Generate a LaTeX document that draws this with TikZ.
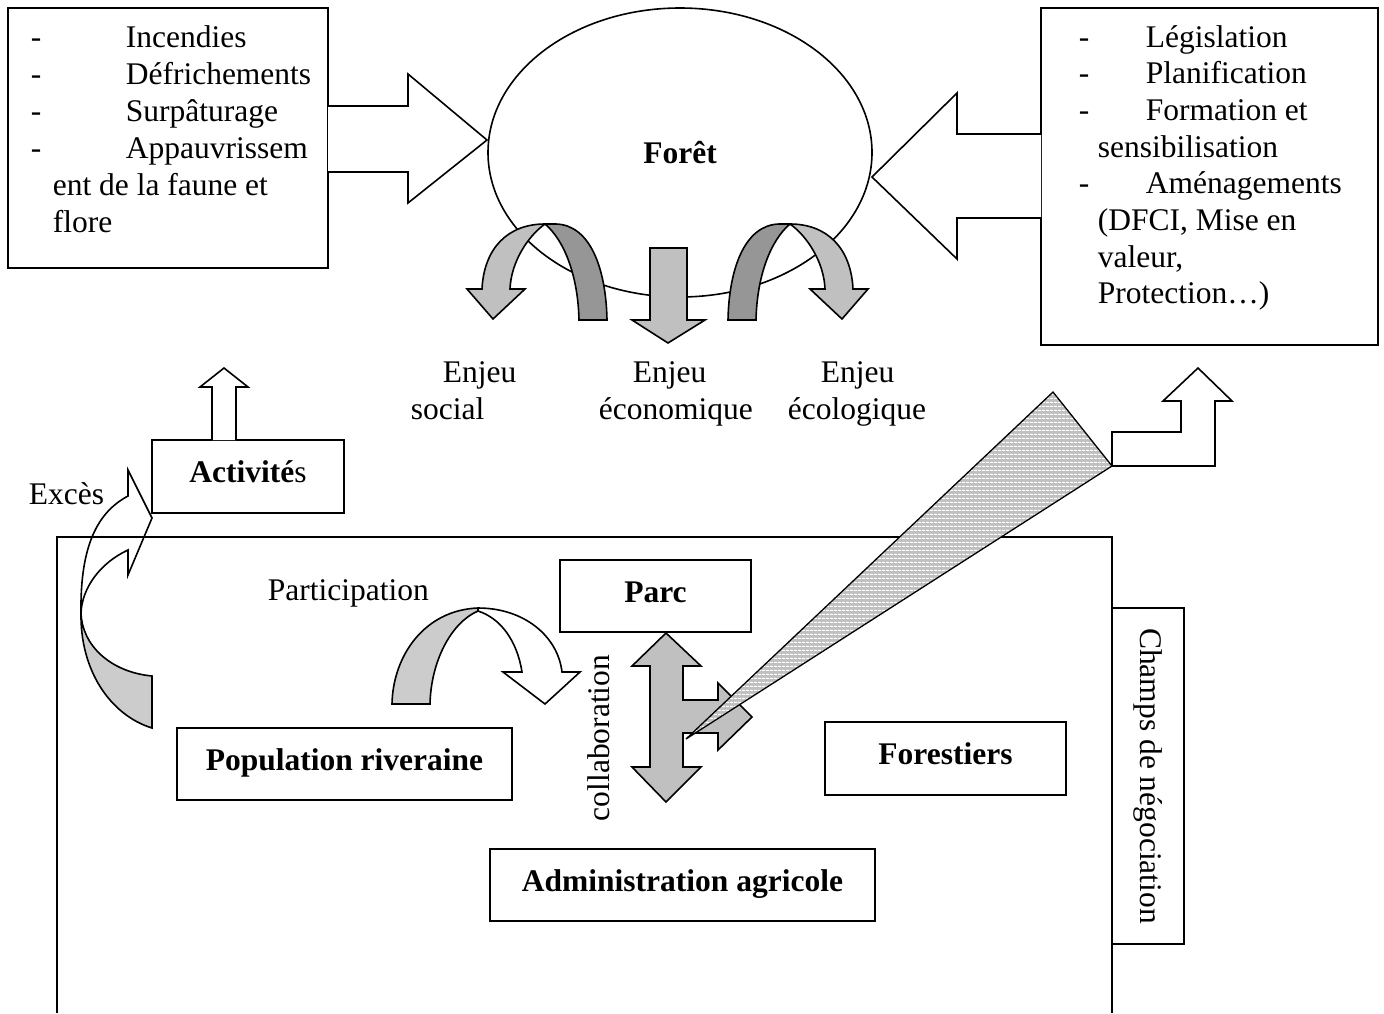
\documentclass[tikz,border=0pt]{standalone}
\usepackage{fontspec}
\setmainfont{Liberation Serif}
\usetikzlibrary{shapes.geometric,patterns.meta}

\definecolor{lightgrey}{HTML}{C0C0C0}
\definecolor{darkgrey}{HTML}{969696}
\definecolor{palegrey}{HTML}{CCCCCC}

\begin{document}
\begin{tikzpicture}[x=1pt, y=-1pt, line width=1.6pt,
  font=\fontsize{31.5}{37}\selectfont,
  box/.style={draw, fill=white, rectangle, inner sep=0pt},
  bold/.style={font=\fontsize{31.5}{37}\selectfont\bfseries, text height=21.5pt, text depth=9pt},
  txt/.style={inner sep=0pt, anchor=base west},
  blockarrow/.style={draw, fill=white}]

\useasboundingbox (0,0) rectangle (1384,1013);

% ── TOP: Foret and what acts on it ──────────────────────────

% Foret
\node[draw, ellipse, fill=white, font=\fontsize{31.5}{37}\selectfont\bfseries, inner sep=0pt,
      minimum width=384pt, minimum height=289pt] (foret) at (680,152.5) {Forêt};

% left box (threats) and its arrow
\node[box, minimum width=320pt, minimum height=260pt] (threats) at (168,138) {};
\draw[blockarrow] (328,106) -- (408,106) -- (408,74) -- (487,140)
                  -- (408,203) -- (408,172) -- (328,172);

\foreach \ypos/\lbl [count=\i] in {47/Incendies, 84/Défrichements, 121/Surpâturage, 158/Appauvrissem} {
    \node[txt] (thr-dash\i) at (30,\ypos) {-};
    \node[txt] (thr-\i) at (125,\ypos) {\lbl};
}
\node[txt] (thr-5) at (52,195) {ent de la faune et};
\node[txt] (thr-6) at (52,232) {flore};

% right box (measures) and its arrow
\node[box, minimum width=337pt, minimum height=337pt] (measures) at (1209.5,176.5) {};
\draw[blockarrow] (1041,134) -- (957,134) -- (957,93) -- (872,177)
                  -- (957,259) -- (957,218) -- (1041,218);

\foreach \ypos/\lbl [count=\i] in {47/Législation, 83/Planification, 120/Formation et, 193/Aménagements} {
    \node[txt] (mes-dash\i) at (1078,\ypos) {-};
    \node[txt] (mes-\i) at (1145,\ypos) {\lbl};
}
\foreach \ypos/\lbl [count=\i] in {157/sensibilisation, 230/{(DFCI, Mise en}, 267/{valeur,}, 303/{Protection…)}} {
    \node[txt] (mes-cont\i) at (1097,\ypos) {\lbl};
}

% ── ENJEUX: three arrows out of the Foret ───────────────────

% social (left), ecologique is its mirror image
\foreach \flip in {0,1} {
\begin{scope}[xshift=\flip*1335pt, xscale=1-2*\flip]
    \draw[fill=darkgrey] (545,224) .. controls (564,240) and (578,275) .. (579,320)
        -- (607,320) .. controls (606,268) and (590,225) .. (556,224) -- cycle;
    \draw[fill=lightgrey] (482,289) .. controls (484,248) and (508,224) .. (545,224)
        .. controls (528,236) and (511,262) .. (510,289)
        -- (525,289) -- (493,319) -- (467,289) -- cycle;
\end{scope}
}

% economique (middle)
\draw[fill=lightgrey] (650,248) -- (687,248) -- (687,320) -- (705,320)
    -- (668,343) -- (632,320) -- (650,320) -- cycle;

\foreach \xpos/\ypos/\lbl [count=\i] in {442/382/Enjeu, 410/419/social, 632/382/Enjeu,
        598/419/économique, 820/382/Enjeu, 787/419/écologique} {
    \node[txt] (enjeu-\i) at (\xpos,\ypos) {\lbl};
}

% ── ACTIVITES ───────────────────────────────────────────────

\node[box, text height=21.5pt, text depth=9pt, minimum width=192pt, minimum height=73pt] (act)
    at (248,476.5) {\textbf{Activité}s};
\draw[blockarrow] (212,440) -- (212,387) -- (200,387) -- (224,368)
    -- (248,387) -- (236,387) -- (236,440);

\node[txt] (exces) at (28,504) {Excès};

% curved arrow (Exces)
\draw[fill=white] (128,496) .. controls (98,512) and (80,545) .. (81,613)
    .. controls (82,588) and (100,563) .. (128,550)
    -- (128,575) -- (152,518) -- (128,470) -- cycle;
\draw[fill=palegrey] (81,613) .. controls (80,670) and (110,715) .. (152,728)
    -- (152,676) .. controls (110,672) and (82,645) .. (81,613) -- cycle;

% ── CHAMPS DE NEGOCIATION ───────────────────────────────────

% frame, open at the bottom
\draw (57,1013) -- (57,537) -- (1112,537) -- (1112,1013);

\node[box, rotate=-90, minimum width=336pt, minimum height=72pt] (champs) at (1148,776)
    {Champs de négociation};

% actors
\node[box, bold, minimum width=191pt, minimum height=72pt] (parc) at (655.5,596) {Parc};
\node[box, bold, minimum width=335pt, minimum height=72pt] (pop) at (344.5,764) {Population riveraine};
\node[box, bold, minimum width=241pt, minimum height=73pt] (forest) at (945.5,758.5) {Forestiers};
\node[box, bold, minimum width=385pt, minimum height=72pt] (admin) at (682.5,885) {Administration agricole};

\node[txt] (particip) at (267,600) {Participation};
\node[inner sep=0pt, rotate=90] (collab) at (599,738) {collaboration};

% participation arrow
\draw[fill=palegrey] (392,704) .. controls (393,655) and (425,610) .. (478,608)
    -- (478,611) .. controls (452,622) and (431,660) .. (430,704) -- cycle;
\draw[fill=white] (478,608) .. controls (525,608) and (558,637) .. (562,672)
    -- (580,672) -- (545,704) -- (503,672) -- (522,672)
    .. controls (517,640) and (500,618) .. (478,611) -- cycle;

% collaboration arrow
\draw[fill=lightgrey] (666,633) -- (701,666) -- (683,666) -- (683,700) -- (718,700)
    -- (718,683) -- (752,717) -- (718,750) -- (718,733) -- (683,733) -- (683,767)
    -- (701,767) -- (666,802) -- (632,767) -- (650,767) -- (650,666) -- (632,666) -- cycle;

% hatched wedge and bent arrow towards the measures
\draw[line width=1.3pt, preaction={fill=lightgrey},
      preaction={pattern={Lines[angle=0,distance=4pt,line width=1.1pt]}, pattern color=white}]
    (686,739) -- (1053,392) -- (1112,466) -- cycle;
\draw[blockarrow] (1112,466) -- (1215,466) -- (1215,401) -- (1232,401) -- (1198,368)
    -- (1163,401) -- (1181,401) -- (1181,432) -- (1112,432) -- cycle;

\end{tikzpicture}
\end{document}
